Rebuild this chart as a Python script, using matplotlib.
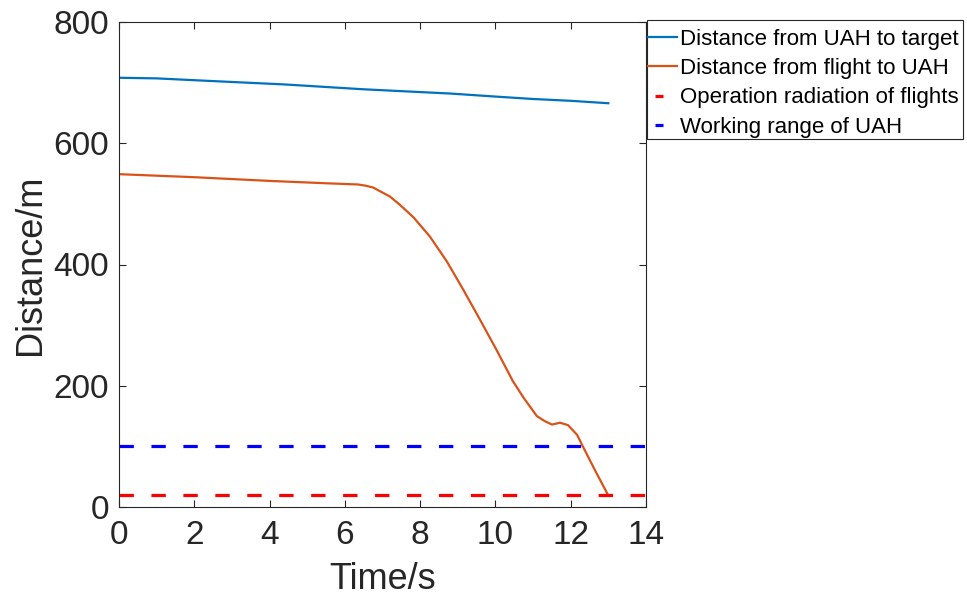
import numpy as np
import matplotlib
matplotlib.use("Agg")
import matplotlib.pyplot as plt
from matplotlib.lines import Line2D
from matplotlib.patches import Rectangle

plt.rcParams["font.family"] = ["Liberation Sans", "DejaVu Sans"]

# ── Data ──────────────────────────────────────────────────────────────────────
t_uah = [0, 1, 2, 4.4, 6.5, 8.8, 10, 11, 12, 13]
d_uah_target = [708, 707, 704, 697, 689, 682, 677, 673, 670, 666]

t_flight = [0, 2, 3.96, 5.5, 6.35, 6.55, 6.75, 6.93, 7.2, 7.47, 7.82, 8.0, 8.26,
            8.71, 9.15, 9.59, 10.03, 10.46, 10.75, 11.1, 11.3, 11.5, 11.72,
            11.93, 12.17, 12.33, 12.65, 12.99]
d_flight_uah = [549, 544, 538, 534, 532, 530, 527, 521, 512, 498, 478, 465, 446,
                405, 358, 309, 259, 208, 180, 150, 142, 136, 139, 135, 119, 99,
                60, 20]

t_range = [0, 14]
op_radius = [20, 20]
uah_range = [100, 100]

C_BLUE = "#0072BD"
C_ORANGE = "#D95319"
C_AX = "#262626"
W, H = 967, 598

# ── Figure ────────────────────────────────────────────────────────────────────
fig = plt.figure(figsize=(W / 100, H / 100), dpi=100)
ax = fig.add_axes([119 / W, 91 / H, 527 / W, 485 / H])

DASH = (0, (4.5, 5.5))
ax.plot(t_uah, d_uah_target, color=C_BLUE, lw=1.6)
ax.plot(t_flight, d_flight_uah, color=C_ORANGE, lw=1.6)
ax.plot(t_range, op_radius, color="#FF0000", lw=2.3, ls=DASH)
ax.plot(t_range, uah_range, color="#0000FF", lw=2.3, ls=DASH)

ax.set_xlim(0, 14)
ax.set_ylim(0, 800)
ax.set_xticks(np.arange(0, 15, 2))
ax.set_yticks([0, 200, 400, 600, 800])

ax.tick_params(direction="in", top=True, right=True, length=5, width=0.8,
               labelsize=24, colors=C_AX)
ax.tick_params(axis="y", pad=7)
ax.tick_params(axis="x", pad=9)
for s in ax.spines.values():
    s.set_color(C_AX)
    s.set_linewidth(0.8)

ax.set_xlabel("Time/s", fontsize=26, color=C_AX, labelpad=8)
ax.set_ylabel("Distance/m", fontsize=26, color=C_AX, labelpad=4)

# legend handles: solid lines full length, dashed ones as a single short dash
handles = [
    Line2D([], [], color=C_BLUE, lw=1.6),
    Line2D([], [], color=C_ORANGE, lw=1.6),
    Line2D([], [], color="#FF0000", lw=2.3, ls=(-2.2, (2.5, 20))),
    Line2D([], [], color="#0000FF", lw=2.3, ls=(-2.2, (2.5, 20))),
]
labels = ["Distance from UAH to target", "Distance from flight to UAH",
          "Operation radiation of flights", "Working range of UAH"]
leg = fig.legend(handles, labels, loc="upper left",
                 bbox_to_anchor=(648 / W, 1 - 29 / H), borderaxespad=0,
                 fontsize=16, frameon=False, handlelength=1.3,
                 handletextpad=0.14, borderpad=0, labelspacing=0.37)

# legend box outside the axes
fig.patches.append(Rectangle((647 / W, 1 - 139 / H), 316 / W, 119 / H,
                             transform=fig.transFigure, fill=False,
                             edgecolor=C_AX, linewidth=0.8))

fig.savefig("out.png", dpi=100, facecolor="white")
